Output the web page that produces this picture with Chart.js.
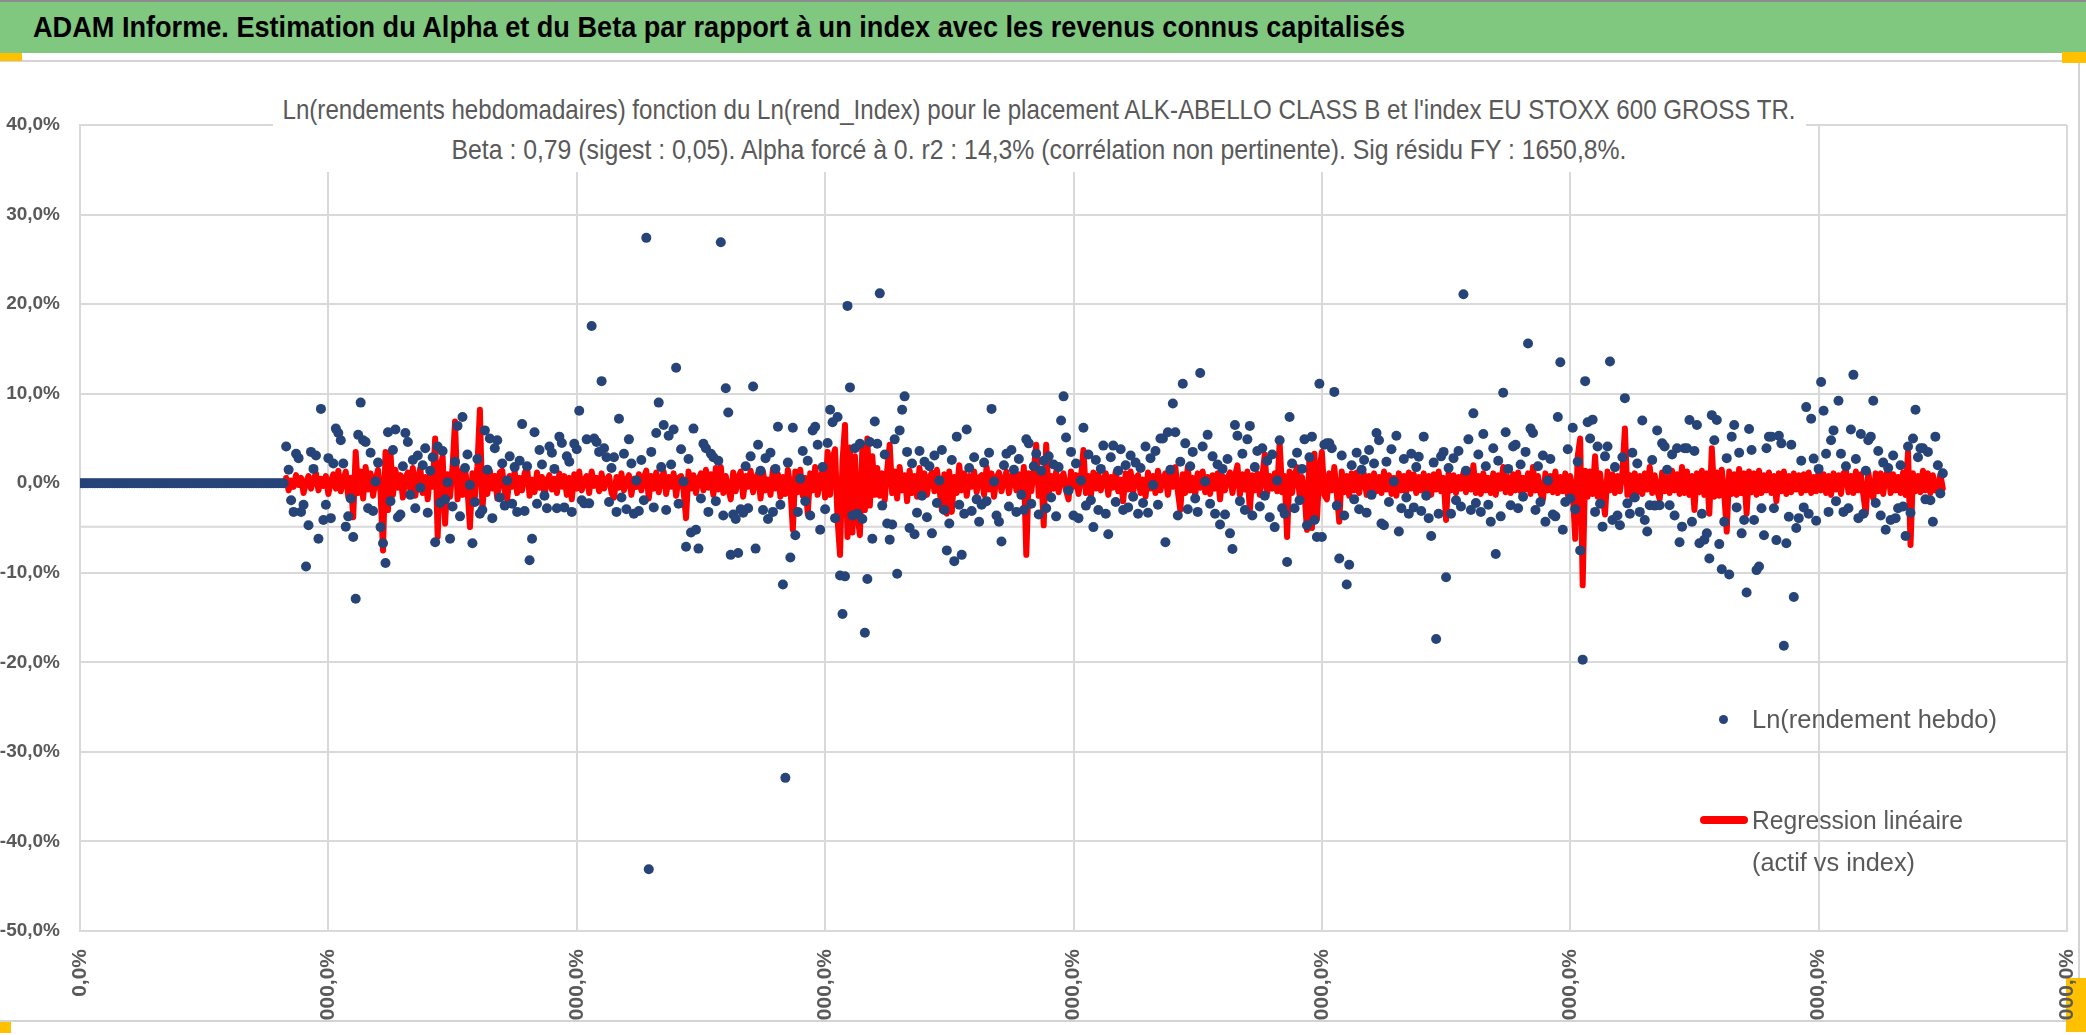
<!DOCTYPE html>
<html>
<head>
<meta charset="utf-8">
<script src="https://cdn.jsdelivr.net/npm/chart.js@4.4.1/dist/chart.umd.min.js"></script>
<style>
  body { margin: 0; width: 2086px; height: 1035px; position: relative; overflow: hidden; background: #fff;
         font-family: 'Liberation Sans', Arial, sans-serif; }
  #bar { position: absolute; left: 0; top: 0; width: 2086px; height: 53px; background: #80c880;
         border-top: 2px solid #8c8c8c; box-sizing: border-box; }
  #bar span { position: absolute; left: 33px; top: 0; line-height: 50px; font-size: 30px; font-weight: bold; color: #000;
              white-space: nowrap; transform-origin: left center; }
  #frame { position: absolute; left: 0; top: 60px; width: 2080px; height: 962px; border-top: 2px solid #d4d4d4;
           border-bottom: 2px solid #d4d4d4; border-right: 2px solid #d4d4d4; box-sizing: border-box; }
  .hdl { position: absolute; background: #ffc000; }
  #c { position: absolute; left: 0; top: 62px; }
  #ctitle { position: absolute; left: 273px; top: 63px; width: 1533px; height: 109px; background: #fff;
            color: #595959; font-size: 28px; line-height: 40px; }
  #ctitle span { position: absolute; left: 766px; white-space: nowrap; transform-origin: center center; }
  .lg { position: absolute; color: #595959; font-size: 26px; white-space: nowrap; transform-origin: left center; }
</style>
</head>
<body>
<div id="bar"><span data-w="1372">ADAM Informe. Estimation du Alpha et du Beta par rapport à un index avec les revenus connus capitalisés</span></div>
<div id="frame"></div>
<div class="hdl" style="left:0;top:53px;width:22px;height:8px"></div>
<div class="hdl" style="left:2062px;top:52px;width:24px;height:11px"></div>
<div class="hdl" style="left:2066px;top:978px;width:20px;height:54px"></div>
<div class="hdl" style="left:0;top:1022px;width:11px;height:11px"></div>
<canvas id="c" width="2078" height="959"></canvas>
<div id="ctitle">
  <span data-w="1513" data-c="1" style="top:27px">Ln(rendements hebdomadaires) fonction du Ln(rend_Index) pour le placement ALK-ABELLO CLASS B et l'index EU STOXX 600 GROSS TR.</span>
  <span data-w="1175" data-c="1" style="top:67px">Beta : 0,79 (sigest : 0,05). Alpha forcé à 0. r2 : 14,3% (corrélation non pertinente). Sig résidu FY : 1650,8%.</span>
</div>
<div style="position:absolute;left:1719px;top:715px;width:9px;height:9px;border-radius:50%;background:#264478"></div>
<div class="lg" data-w="245" style="left:1752px;top:701px;line-height:36px">Ln(rendement hebdo)</div>
<div style="position:absolute;left:1700px;top:816px;width:48px;height:8px;border-radius:4px;background:#ff0000"></div>
<div class="lg" data-w="211" style="left:1752px;top:799px;line-height:42px">Regression linéaire</div>
<div class="lg" data-w="163" style="left:1752px;top:841px;line-height:42px">(actif vs index)</div>
<script>
// weeks before the asset had quotes: return set to 0
const leadZeros = [
  0,0,0,0,0,0,0,0,0,0, 0,0,0,0,0,0,0,0,0,0, 0,0,0,0,0,0,0,0,0,0, 0,0,0,0,0,0,0,0,0,0,
  0,0,0,0,0,0,0,0,0,0, 0,0,0,0,0,0,0,0,0,0, 0,0,0,0,0,0,0,0,0,0, 0,0,0,0,0,0,0,0,0,0,
  0,0,0
];

// Ln(rendement hebdo) in %, from week 83
const lnRendHebdo = [
  4.1, 1.5, -1.9, -3.2, 3.3, 2.8, -3.2, -2.4, -9.3, -4.7,
  3.5, 1.6, 3.1, -6.2, 8.3, -4.1, -2.4, 2.8, -3.9, 2.2,
  6.1, 5.6, 4.8, 2.2, -4.85, -3.7, -1.7, -6.0, -12.9, 5.4,
  9.0, 4.8, 4.6, -2.8, 3.4, -3.1, 0.2, 2.3, -4.9, -6.7,
  -8.9, 5.7, -2.0, 3.7, 6.0, -3.8, -3.5, 1.9, 5.6, 4.6,
  -1.3, 2.6, -2.8, 3.1, -0.5, 2.0, 3.9, -3.3, 1.4, 2.9,
  -6.6, 4.1, -2.2, 3.6, -1.8, 0.1, -6.2, -2.6, 2.4, 6.4,
  -3.7, 7.4, 1.7, 3.2, -0.2, -6.7, -2.1, 2.7, -3.4, -3.0,
  5.9, 1.5, 5.0, -3.9, 3.9, 4.8, -1.6, 2.2, -2.5, 0.3,
  3.0, -2.3, 1.8, -3.2, 2.5, 6.6, -3.1, 1.9, -8.6, -6.2,
  5.7, -2.3, 3.7, 2.1, -1.4, -2.8, 4.1, 3.4, 1.6, -2.8,
  5.2, 4.5, -2.7, 3.0, 2.4, -3.2, 4.4, 3.8, 8.1, -1.9,
  -2.25, 4.9, -2.25, 17.55, 5.0, 4.6, 3.5, 11.4, 3.9, 2.9,
  -2.1, 1.7, 2.9, -3.2, 7.2, -1.6, 3.3, -2.9, 4.9, 2.2,
  -3.4, 0.3, -3.1, 2.6, -1.9, 27.4, -43.1, 3.5, -2.7, 5.6,
  9.0, 1.8, 6.5, -3.0, 5.3, 2.1, 6.0, 12.9, -2.3, 3.8,
  0.2, -7.1, 2.7, -5.5, 6.1, -5.2, -7.3, -1.7, 4.4, 3.9,
  -3.2, 3.3, 2.9, -2.0, 2.5, 26.9, -3.6, 10.6, 7.9, -8.0,
  -3.5, -4.0, -7.8, -2.9, -3.3, 1.9, -2.8, 3.0, 10.8, -7.3,
  4.3, 1.4, -3.0, 2.8, -4.0, 3.4, -3.2, 1.6, 6.3, -2.4,
  -11.3, -32.9, 2.3, -8.3, 6.2, -5.8, -3.2, 0.5, 3.6, -2.0,
  2.5, -3.6, 5.9, 6.3, 4.3, -5.2, 1.8, -2.9, 4.5, 8.2,
  6.8, -3.9, 7.4, -10.3, -14.6, -10.4, 19.8, 10.7, -3.6, 3.9,
  -3.4, 4.4, -4.0, -16.7, -10.7, 4.6, -6.2, 6.9, 4.4, 21.2,
  -2.5, 3.2, -4.5, -6.3, -4.6, 4.9, -10.1, 5.9, 8.2, 9.7,
  3.5, -5.0, 2.2, -5.7, -3.3, 3.6, -1.4, 2.4, -3.8, 1.9,
  -5.6, 3.1, -2.2, 0.3, 3.7, -3.0, -7.5, -4.5, 2.6, -8.7,
  5.2, -2.4, -8.0, -3.4, 6.0, 1.7, -3.1, 2.9, -1.8, -4.3,
  -2.4, 2.3, -2.0, 3.4, 8.3, 0.2, -3.6, -4.3, -6.5, 2.0,
  3.3, -2.6, 3.7, 1.5, -3.2, 2.7, -1.3, -3.0, 4.9, 4.45,
  -2.3, 1.9, 3.3, -3.5, 1.4, 2.5, -2.8, 3.0, -1.6, 2.1,
  -3.7, 1.8, 7.0, 9.7, 5.1, -0.8, 3.5, -3.6, 2.2, -3.9,
  0.3, 6.2, -2.5, 3.2, -1.9, -4.9, 2.6, -3.0, 1.6, 4.2,
  -3.4, -5.7, 2.9, 4.2, -2.1, 1.4, 3.8, -3.0, 2.0, -2.7,
  3.1, -1.5, 2.3, -3.4, 1.7, -2.2, 4.1, -3.3, 2.8, -0.2,
  3.6, -2.4, 5.0, 5.0, -6.6, 5.7, 1.5, 8.9, 5.7, -3.6,
  2.4, 11.1, 4.45, -2.9, 1.9, 3.5, -1.7, -3.2, 12.3, 4.1,
  0.2, 5.4, -2.3, 3.0, -3.4, 2.1, -4.6, 1.6, -3.5, 2.7,
  -5.6, -7.35, 6.5, 5.3, -2.0, 3.3, -3.0, 4.9, 6.4, -3.6,
  1.8, 3.6, -2.6, 3.9, -1.4, 2.5, -3.8, 3.2, -4.9, 0.3,
  4.8, -2.8, -3.4, -8.8, 7.4, 2.2, -2.8, 3.4, -1.9, 1.6,
  4.9, -4.7, 2.9, 5.2, -4.1, -6.0, 11.1, -6.0, 4.3, 4.45,
  4.45, 3.9, 10.2, -2.5, -8.4, 3.1, -3.6, -11.3, -9.1, 2.0,
  -1.8, 3.4, -2.9, 1.5, 2.6, -3.3, 3.7, -1.3, 2.2, 5.6,
  4.8, -4.5, -4.7, 2.4, -2.1, 3.8, 0.2, 5.3, -5.4, -2.8,
  2.7, -1.6, -3.4, 3.3, -2.7, 1.8, 2.95, -3.1, 5.2, -1.4,
  -3.9, -5.9, 2.3, -17.4, -3.4, 3.0, 3.5, -10.5, 1.7, -3.4,
  2.8, -1.9, 3.6, -2.6, 21.1, 1.4, 4.9, -3.0, 7.8, -2.2,
  3.2, -3.2, 5.5, 1.9, -2.4, -4.3, 3.9, -7.9, 2.5, -3.7,
  10.1, 5.7, 1.6, -2.45, 4.1, 4.3, -2.8, 2.1, -1.5, 3.5,
  15.6, 6.1, 5.6, -3.0, 1.9, -2.1, 3.1, -4.3, 0.3, 2.7,
  -3.5, -3.7, 7.4, 13.5, -5.2, -2.1, 3.8, -1.7, 6.2, -2.9,
  2.4, -7.5, -19.7, 11.4, 6.8, 5.0, 7.1, -3.2, 4.1, -2.3,
  -4.85, 3.0, 4.1, 13.6, -4.1, 1.8, -3.6, -4.7, 2.9, 9.5,
  -2.25, -3.4, 3.4, -1.6, 2.2, -3.2, 7.0, -4.1, -5.4, -2.45,
  2.6, -2.5, 5.9, -2.45, 4.45, 4.1, 1.5, -2.45, 3.2, -3.6,
  3.9, -6.6, -4.85, 3.9, 3.9, 7.05, -4.3, 3.6, 6.5, -6.7,
  -3.4, -6.3, -5.6, -8.4, 7.6, 4.8, 7.05, -6.8, -9.6, -4.3,
  2.8, -10.2, 5.2, 6.5, -2.7, 3.4, -5.6, -4.1, -12.2, 6.05,
  3.7, -4.1, -9.7, -9.3, -2.8, -5.8, 3.9, 5.2, 5.2, -2.8,
  -6.35, 5.3, 4.45, -18.15, -6.7, -3.75, 4.3, -12.7, -5.0, -3.9,
  2.5, -2.7, 8.5, -3.4, 7.2, 2.75, -4.2, 1.6, 11.3, 8.1,
  3.3, -3.2, 4.8, 5.9, -2.0, 9.2, 3.3, -3.2, 1.9, -2.8,
  6.0, 12.1, 2.7, -3.9, 5.5, -3.4, 1.4, 4.8, 5.2, 9.2,
  -2.2, 3.6, -3.6, 2.3, -5.2, 1.7, -4.1, 3.1, -3.9, -2.8,
  2.0, -2.6, -5.9, 4.1, -3.3, 5.0, 8.2, 2.9, 3.9, 3.9,
  -1.8, 3.5, -1.9, -4.3, 5.2, 2.0, -1.15, 1.1
];

// regression line (beta x index), in %, from week 83
const regression = [
  0.6, -0.8, 0.3, -0.4, 0.9, -0.2, 0.6, -1.1, 0.1, 0.8,
  -0.6, 0.4, 1.1, -0.8, 0.5, -0.3, 0.8, -1.2, 0.2, 1.0,
  -0.6, 1.4, -0.9, 0.4, 1.3, -1.5, 0.6, -3.8, 3.5, -1.1,
  1.3, -1.7, 1.8, -0.7, 1.1, -1.4, 0.3, 1.5, -1.0, -7.5,
  3.5, -3.0, 3.4, -1.3, 1.5, -0.5, 0.9, -1.6, 0.6, 1.2,
  -0.8, 1.7, -1.4, 0.4, 1.7, -1.1, 0.7, -1.8, 1.3, -0.4,
  5.0, -6.0, 1.5, 3.0, -4.5, 1.0, -1.5, 1.8, 6.9, -1.8,
  1.3, -1.3, 1.6, -0.6, -4.9, 1.1, -1.5, 1.9, 8.2, -3.0,
  1.0, -1.2, 1.4, -0.6, 0.8, -1.7, 1.2, 1.4, -0.9, -1.8,
  0.8, -0.4, 1.3, -1.1, 0.6, -0.8, 1.1, 1.8, -1.4, 0.4,
  -1.0, 1.2, -0.5, 0.7, -1.3, 0.3, 0.9, -0.7, 0.5, -1.1,
  1.1, -0.4, 0.8, -1.3, 0.6, -1.8, 1.0, -0.6, 1.3, -0.8,
  0.4, 0.8, -1.1, 1.3, -0.3, 0.6, -0.9, 1.1, -0.6, 0.4,
  0.8, -1.1, -1.6, 0.7, -0.5, 1.1, -0.8, 0.3, 0.9, -1.3,
  0.5, -0.4, 1.0, -0.8, 0.6, 1.4, -1.7, 0.8, -0.6, 1.2,
  -1.0, 0.4, 1.3, -1.2, 0.7, -0.4, 1.1, -1.4, 0.6, 0.8,
  -0.8, -3.9, 1.3, -0.6, 0.9, -1.1, 0.4, 1.1, -0.8, 1.5,
  -0.5, 1.0, -1.3, 1.7, -0.7, 1.8, -1.1, 0.8, -0.6, -1.8,
  1.2, -0.9, 0.6, 1.3, -1.5, 0.8, -0.4, 1.4, -1.0, 0.5,
  1.1, -1.7, 1.3, -0.8, 0.4, -1.3, 1.6, -0.6, 1.0, -1.5,
  0.7, -1.2, 1.5, -0.4, -5.2, 1.3, -1.0, 1.5, -1.4, 0.6,
  -3.4, 1.1, -0.8, 1.8, -1.3, 0.5, 1.4, -1.6, 3.5, -1.3,
  2.8, 3.8, -4.0, -8.0, 2.5, 6.5, -6.0, 4.0, -5.5, 3.0,
  -3.5, -5.8, 4.2, -3.0, 5.0, -2.5, 3.0, -1.3, 1.7, -1.4,
  1.1, -1.9, 1.5, 4.3, -1.1, 1.3, -1.7, 1.8, -0.8, 0.9,
  -2.0, 1.4, -1.1, 0.8, -1.5, 1.7, -0.6, 1.1, -1.3, 0.6,
  1.2, -0.9, 1.5, -0.5, -3.0, 1.0, -3.4, 1.3, -3.2, 0.7,
  -1.1, 2.0, -0.8, 1.1, -1.4, 0.8, -0.4, 1.3, -1.0, 0.6,
  0.9, -1.3, 1.8, -0.7, 1.1, -1.5, 0.6, 1.2, -0.9, 0.3,
  1.3, -1.1, 0.5, 1.4, -0.8, 1.0, -1.3, 1.8, -8.0, 1.1,
  -0.9, 1.5, 4.3, -1.4, 1.1, -4.7, 4.3, -1.2, 0.8, -0.6,
  1.3, -1.0, 0.6, 1.1, -0.8, -1.8, 1.3, -0.4, 0.9, -1.2,
  0.6, 3.7, -1.1, 0.8, -1.4, 1.2, -0.6, 1.0, -0.8, 0.4,
  1.1, -1.3, 0.7, -0.5, 1.3, -0.9, 0.4, -2.0, 1.1, -0.7,
  1.3, -1.0, 0.6, 0.9, -1.1, 0.4, -1.5, 1.2, -0.6, 0.8,
  -1.1, 1.4, -0.8, 0.5, 1.1, -1.3, 0.8, -0.4, 1.8, -0.9,
  -3.0, 1.0, -1.1, 1.8, -0.8, 0.6, -1.3, 1.1, -0.5, 1.3,
  -1.0, 0.7, -1.2, 0.9, -0.6, 1.1, -1.8, 0.8, -0.8, 0.6,
  1.2, -1.1, 0.8, 2.0, -1.3, 1.0, -0.7, 1.3, -3.0, 0.9,
  -0.8, 1.1, -1.3, 0.7, 3.2, -1.1, 0.8, -0.6, 1.1, -0.9,
  4.5, -1.0, 0.8, -6.0, 1.3, -1.1, 0.9, 1.8, -1.3, 0.7,
  -1.1, -5.2, 3.0, -5.0, 3.3, -4.0, 1.3, 3.5, -1.3, -1.8,
  1.1, -0.8, 1.8, -1.1, -4.3, 1.3, -1.0, 0.8, -1.4, 1.1,
  -0.8, 1.2, -1.1, 0.6, 1.0, -1.3, 0.8, -0.5, 1.1, -0.9,
  0.7, -1.1, 1.3, -0.7, 0.9, -1.2, 0.6, -1.4, 1.1, -0.8,
  0.8, -1.0, 1.2, -0.6, 1.0, -1.1, 0.7, -0.8, 1.1, -1.1,
  0.8, -1.3, 1.0, -0.7, 1.3, -0.9, 0.6, -4.1, 1.1, -0.8,
  0.9, -1.1, 0.7, -0.6, 1.2, -1.0, 0.8, -0.7, 2.0, -1.1,
  0.8, -1.2, 1.1, -0.8, 0.6, -1.1, 1.1, -1.3, 0.9, -0.6,
  1.8, -1.0, 0.7, -1.1, 1.0, -0.8, 1.2, -0.9, 0.6, -0.7,
  1.1, -1.2, 1.8, -0.8, 0.8, -1.1, -1.8, 1.1, -0.8, 0.8,
  -1.0, 1.3, -1.1, 0.7, -0.9, 1.1, -1.3, 0.8, -0.7, -6.2,
  3.0, 5.0, -11.4, 1.4, -1.5, 1.3, -1.2, 3.0, -1.5, 1.1,
  -1.3, -3.5, 1.3, -0.8, 1.0, -1.1, 0.8, -0.9, 1.2, 6.1,
  -1.3, 0.9, -1.8, 1.1, -1.0, 0.8, -1.2, 1.1, -0.7, 1.8,
  -1.1, 0.9, -0.8, -1.8, 1.2, -0.9, 0.7, -1.1, 1.4, -0.8,
  1.0, -1.2, 1.8, -1.1, 1.3, -1.3, 0.8, -3.0, 1.1, -1.0,
  1.4, -1.3, 1.1, -3.4, 3.9, -1.5, 1.2, -1.4, 1.5, -1.1,
  -5.4, 1.3, -1.2, 1.0, -1.3, 1.6, -1.1, 1.1, -3.4, 1.3,
  -1.0, 1.1, -1.3, 1.4, -1.1, 0.9, -0.8, 1.2, -1.1, 0.8,
  -2.0, 1.1, -0.9, 1.3, -1.2, 0.8, -1.0, 1.1, -0.7, 0.9,
  -1.1, 1.0, -0.8, 1.2, -1.1, 0.7, -0.9, 1.3, -0.8, 1.0,
  -1.1, 0.8, -1.3, 1.1, -0.7, 0.9, -1.2, 1.1, 1.4, -1.0,
  0.8, -1.1, 1.3, -0.8, 1.0, -1.3, -3.4, 1.2, -0.8, -1.7,
  1.1, -0.9, 1.1, -1.2, 0.8, 1.5, -1.1, 1.0, -0.8, 0.7,
  -1.1, 1.2, -1.3, 3.5, -6.9, 1.1, -0.9, 0.8, -1.0, 1.4,
  -0.8, 1.1, -1.1, 0.9, -0.8, -0.7, 1.0, -0.6
];

const axisCrossAt = -4.85; // horizontal axis line drawn by the sheet

const allReturns = leadZeros.concat(lnRendHebdo);
const pointsHebdo = allReturns.map((v, i) => ({ x: i, y: v }));
const pointsRegr = regression.map((v, k) => ({ x: k + leadZeros.length, y: v }));

function pct(v) {
  return v.toFixed(1).replace('.', ',') + '%';
}

// squeeze html texts to the narrow width of the original font
document.querySelectorAll('[data-w]').forEach((el) => {
  if (el.tagName === 'SPAN') el.style.display = 'inline-block';
  const w = el.getBoundingClientRect().width;
  const k = Number(el.dataset.w) / w;
  el.style.transform = (el.dataset.c ? 'translateX(-50%) ' : '') + 'scaleX(' + k + ')';
});

const FONT = "'Liberation Sans', Arial, sans-serif";

const axisLine = {
  id: 'axisLine',
  beforeDatasetsDraw(chart) {
    const ctx = chart.ctx, a = chart.chartArea;
    const y = chart.scales.y.getPixelForValue(axisCrossAt);
    ctx.save();
    ctx.strokeStyle = '#d9d9d9';
    ctx.lineWidth = 2;
    ctx.beginPath();
    ctx.moveTo(a.left, y);
    ctx.lineTo(a.right, y);
    ctx.stroke();
    ctx.restore();
  }
};

new Chart(document.getElementById('c'), {
  type: 'scatter',
  data: {
    datasets: [
      {
        label: 'Ln(rendement hebdo)',
        data: pointsHebdo,
        backgroundColor: '#264478',
        borderWidth: 0,
        pointRadius: 5,
        showLine: false,
        order: 1
      },
      {
        label: 'Regression linéaire (actif vs index)',
        data: pointsRegr,
        borderColor: '#ff0000',
        borderWidth: 6,
        borderJoinStyle: 'round',
        borderCapStyle: 'round',
        pointRadius: 0,
        showLine: true,
        tension: 0,
        order: 2
      }
    ]
  },
  options: {
    responsive: false,
    animation: false,
    layout: { padding: { top: 63, right: 11, left: 0, bottom: 0 } },
    plugins: { legend: { display: false }, title: { display: false }, tooltip: { enabled: false } },
    scales: {
      x: {
        type: 'linear', min: 0, max: 800,
        grid: { color: '#d9d9d9', lineWidth: 2, drawTicks: false },
        border: { display: true, color: '#d9d9d9', width: 2 },
        ticks: {
          stepSize: 100, minRotation: 90, maxRotation: 90, padding: 18,
          color: '#595959', font: { family: FONT, size: 21, weight: 'bold' },
          callback: (v) => pct(v * 100)
        },
        afterFit(s) { s.height = 90; s.paddingLeft = 0; s.paddingRight = 0; }
      },
      y: {
        min: -50, max: 40,
        grid: {
          color: (c) => (c.tick && c.tick.value === 0 ? 'rgba(0,0,0,0)' : '#d9d9d9'),
          lineWidth: 2, drawTicks: false
        },
        border: { display: true, color: '#d9d9d9', width: 2 },
        ticks: {
          stepSize: 10, padding: 20,
          color: '#595959', font: { family: FONT, size: 19, weight: 'bold' },
          callback: (v) => pct(v)
        },
        afterFit(s) { s.width = 80; }
      }
    }
  },
  plugins: [axisLine]
});
</script>
</body>
</html>
